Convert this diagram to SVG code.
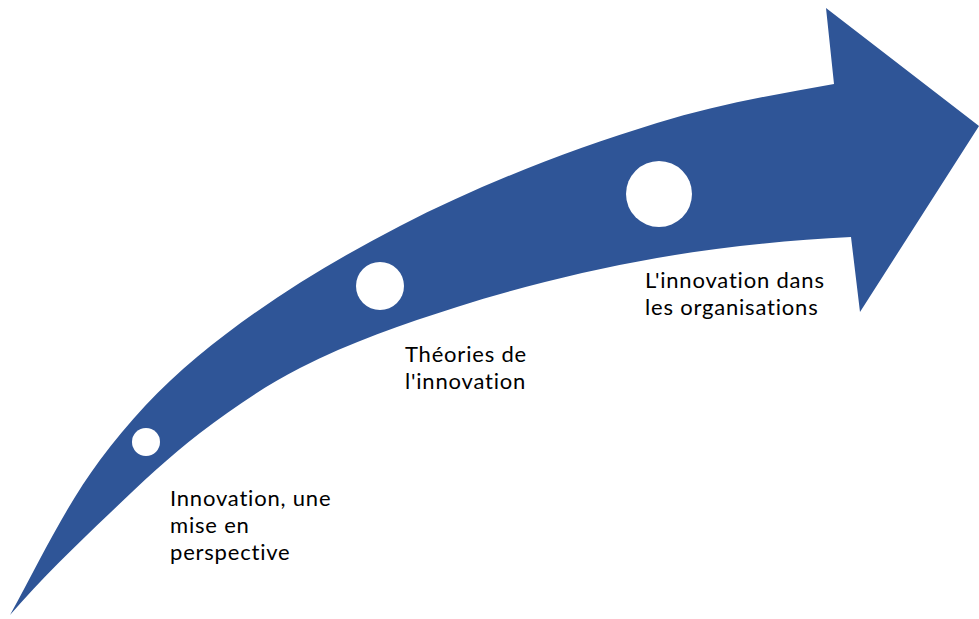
<svg xmlns="http://www.w3.org/2000/svg" width="979" height="619" viewBox="0 0 979 619">
<style>
.arrow{fill:#2F5597;stroke:none}
.dot{fill:#FFFFFF;stroke:none}
.lbl{font-family:Lato,"Noto Sans",sans-serif;font-size:22px;letter-spacing:0.8px;font-variant-ligatures:none;fill:#000000}
</style>
<rect width="979" height="619" fill="#FFFFFF"/>
<g id="arrow">
<path class="arrow" d="M10,615 C38.9,562.8 64.3,507.9 100,460 C128.2,422.1 160.7,387.2 197,357 C258.8,305.5 328.5,262.9 400,226 C482.1,183.6 568.8,150.1 657,123 C714.7,105.2 774.5,94.5 834,84 L826,8 L979,126 L860,312 L851,237 C786.1,240.4 721,246.7 657,258 C589.4,269.9 522.4,286.4 457,307 C403.5,323.9 349.9,342.4 300,368 C264.6,386.1 231.7,408.9 200,433 C168.1,457.3 139,485.4 110,513 C75.5,545.8 41.2,579.1 10,615 Z"/>
</g>
<g id="node1">
<circle class="dot" cx="146" cy="442" r="14"/>
<text class="lbl" x="170" y="506"><tspan x="170" y="506">Innovation, une</tspan><tspan x="170" y="533">mise en</tspan><tspan x="170" y="560">perspective</tspan></text>
</g>
<g id="node2">
<circle class="dot" cx="380" cy="286" r="24"/>
<text class="lbl" x="405" y="362"><tspan x="405" y="362">Théories de</tspan><tspan x="405" y="389">l'innovation</tspan></text>
</g>
<g id="node3">
<circle class="dot" cx="659" cy="194" r="33"/>
<text class="lbl" x="645" y="288"><tspan x="645" y="288">L'innovation dans</tspan><tspan x="645" y="315">les organisations</tspan></text>
</g>
<g id="connectors"></g>
</svg>
